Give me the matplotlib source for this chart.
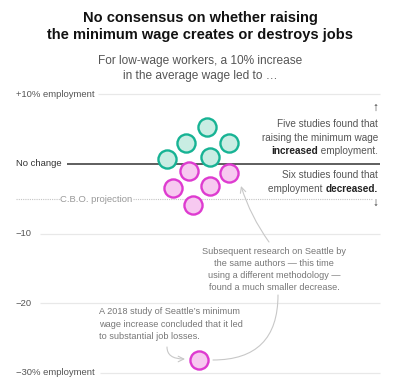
import matplotlib
matplotlib.use("Agg")
import matplotlib.pyplot as plt

# ---- data ----
increase_vals = [5.3, 3.0, 3.0, 0.7, 1.05]          # % employment change
increase_x = [206.7, 186.3, 229.3, 167.3, 210.3]     # swarm positions
decrease_vals = [-1.0, -1.25, -3.5, -3.2, -5.9, -28.2]
decrease_x = [189.3, 229.3, 172.7, 210.3, 193.3, 199.3]
grid_vals = [10, 0, -10, -20, -30]
grid_labels = ["+10% employment", "No change", "\u221210", "\u221220", "\u221230% employment"]
cbo_val = -5.1

W, H = 400, 383
FONT = "Liberation Sans"
plt.rcParams['font.family'] = [FONT, 'DejaVu Sans']

fig = plt.figure(figsize=(W / 100, H / 100), dpi=100)
ax = fig.add_axes([0, 0, 1, 1])
zero_px, px_per_unit = 164.0, 6.95
ax.set_xlim(0, W)
ax.set_ylim((zero_px - H) / px_per_unit, zero_px / px_per_unit)
ax.axis('off')

def fy(py):
    return 1 - py / H

def fxx(px):
    return px / W

# title
fig.text(0.5, fy(18), "No consensus on whether raising", ha='center', va='center',
         fontsize=10.5, fontweight='bold', color='#121212')
fig.text(0.5, fy(35.5), "the minimum wage creates or destroys jobs", ha='center', va='center',
         fontsize=10.5, fontweight='bold', color='#121212')
fig.text(0.5, fy(61), "For low-wage workers, a 10% increase", ha='center', va='center',
         fontsize=8.6, color='#555555')
fig.text(0.5, fy(76), "in the average wage led to \u2026", ha='center', va='center',
         fontsize=8.6, color='#555555')

# gridlines
grid_x0 = {10: 98, 0: 67, -10: 40, -20: 40, -30: 100}
for v, lab in zip(grid_vals, grid_labels):
    if v == 0:
        ax.hlines(v, grid_x0[v], 380, color='#333333', lw=1.1, zorder=1)
        col = '#333333'
    else:
        ax.hlines(v, grid_x0[v], 380, color='#e8e8e8', lw=0.9, zorder=1)
        col = '#555555'
    ax.text(16, v, lab, ha='left', va='center', fontsize=6.8, color=col)

# CBO projection dotted line
ax.hlines(cbo_val, 16, 60, color='#c4c4c4', lw=0.8, linestyles=(0, (1, 1)), zorder=1)
ax.hlines(cbo_val, 133, 373, color='#c4c4c4', lw=0.8, linestyles=(0, (1, 1)), zorder=1)
ax.text(96.5, cbo_val, "C.B.O. projection", ha='center', va='center', fontsize=6.8, color='#999999')

# circles
ax.scatter(increase_x, increase_vals, s=170, facecolor='#c9ede3', edgecolor='#17b394',
           linewidth=1.7, zorder=3)
ax.scatter(decrease_x, decrease_vals, s=170, facecolor='#f7c9f0', edgecolor='#de3bd0',
           linewidth=1.7, zorder=3)

# right annotations
rc = '#555555'
fs = 7.2
fig.text(fxx(375), fy(108), "\u2191", ha='center', va='center', fontsize=8.5, color='#333333')
fig.text(fxx(378), fy(124.3), "Five studies found that", ha='right', va='center', fontsize=fs, color=rc)
fig.text(fxx(378), fy(137.7), "raising the minimum wage", ha='right', va='center', fontsize=fs, color=rc)
t1 = fig.text(fxx(378), fy(154), " employment.", ha='right', va='baseline', fontsize=fs, color=rc)
fig.text(fxx(378), fy(175), "Six studies found that", ha='right', va='center', fontsize=fs, color=rc)
t2 = fig.text(fxx(378), fy(192), "decreased.", ha='right', va='baseline', fontsize=fs,
              color='#222222', fontweight='bold')
fig.text(fxx(375), fy(203), "\u2193", ha='center', va='center', fontsize=8.5, color='#333333')

fig.canvas.draw()
r = fig.canvas.get_renderer()
b1 = t1.get_window_extent(r)
fig.text(b1.x0 / W, fy(154), "increased", ha='right', va='baseline', fontsize=fs,
         color='#222222', fontweight='bold')
b2 = t2.get_window_extent(r)
fig.text(b2.x0 / W, fy(192), "employment ", ha='right', va='baseline', fontsize=fs, color=rc)

# gray annotations
gc = '#777777'
fa = 6.6
sub_lines = ["Subsequent research on Seattle by", "the same authors \u2014 this time",
             "using a different methodology \u2014", "found a much smaller decrease."]
for i, l in enumerate(sub_lines):
    fig.text(fxx(274), fy(251.7 + 11.9 * i), l, ha='center', va='center', fontsize=fa, color=gc)
a18 = ["A 2018 study of Seattle\u2019s minimum", "wage increase concluded that it led",
       "to substantial job losses."]
for i, l in enumerate(a18):
    fig.text(fxx(99), fy(311.7 + 12.5 * i), l, ha='left', va='center', fontsize=fa, color=gc)

def v(py):
    return (zero_px - py) / px_per_unit

lc = '#c8c8c8'
# arrow from text to circle
ax.annotate("", xy=(241, v(186)), xytext=(269, v(242)),
            arrowprops=dict(arrowstyle='->', color=lc, lw=0.8,
                            connectionstyle='arc3,rad=-0.08', shrinkA=0, shrinkB=0))
# curved line from Seattle circle to text
ax.annotate("", xy=(278, v(295)), xytext=(213, v(360)),
            arrowprops=dict(arrowstyle='-', color=lc, lw=0.8,
                            connectionstyle='angle3,angleA=0,angleB=90', shrinkA=0, shrinkB=0))
# small arrow
ax.annotate("", xy=(185, v(359)), xytext=(167, v(347)),
            arrowprops=dict(arrowstyle='->', color=lc, lw=0.8,
                            connectionstyle='angle3,angleA=90,angleB=0', shrinkA=0, shrinkB=0))

fig.savefig("out.png", dpi=100, facecolor='white')
